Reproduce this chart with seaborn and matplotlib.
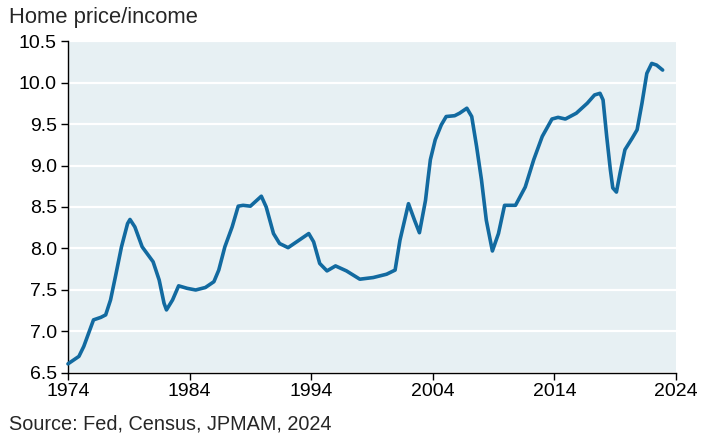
import numpy as np
import pandas as pd
import matplotlib
matplotlib.use('Agg')
import matplotlib.pyplot as plt
import seaborn as sns

# Home price to income ratio
years = [1974.0, 1974.9, 1975.3, 1975.7, 1976.1, 1976.7, 1977.1, 1977.5, 1977.9,
         1978.4, 1978.9, 1979.1, 1979.5, 1980.1, 1980.6, 1981.0, 1981.5, 1981.9,
         1982.1, 1982.6, 1983.1, 1983.8, 1984.5, 1985.3, 1986.0, 1986.4, 1986.9,
         1987.5, 1988.0, 1988.4, 1989.0, 1989.9, 1990.3, 1990.9, 1991.4, 1992.1,
         1992.8, 1993.8, 1994.2, 1994.7, 1995.3, 1996.0, 1996.9, 1998.0, 1999.1,
         2000.2, 2000.9, 2001.3, 2002.0, 2002.5, 2002.9, 2003.4, 2003.6, 2003.8,
         2004.2, 2004.7, 2005.1, 2005.8, 2006.2, 2006.8, 2007.2, 2007.6, 2008.0,
         2008.4, 2008.9, 2009.4, 2009.9, 2010.8, 2011.6, 2012.3, 2013.0, 2013.8,
         2014.3, 2014.9, 2015.8, 2016.7, 2017.3, 2017.75, 2018.0, 2018.3, 2018.6,
         2018.8, 2019.1, 2019.4, 2019.8, 2020.4, 2020.8, 2021.2, 2021.6, 2022.0,
         2022.4, 2022.9]
ratio = [6.61, 6.70, 6.82, 6.98, 7.14, 7.17, 7.20, 7.38, 7.66,
         8.02, 8.30, 8.35, 8.26, 8.02, 7.92, 7.84, 7.62, 7.34,
         7.26, 7.38, 7.55, 7.52, 7.50, 7.53, 7.60, 7.74, 8.02,
         8.26, 8.51, 8.52, 8.51, 8.63, 8.50, 8.18, 8.06, 8.01,
         8.08, 8.18, 8.08, 7.82, 7.73, 7.79, 7.73, 7.63, 7.65,
         7.69, 7.74, 8.10, 8.54, 8.34, 8.19, 8.58, 8.83, 9.07,
         9.31, 9.49, 9.59, 9.60, 9.63, 9.69, 9.59, 9.23, 8.83,
         8.34, 7.97, 8.18, 8.52, 8.52, 8.74, 9.07, 9.35, 9.56,
         9.58, 9.56, 9.63, 9.75, 9.85, 9.87, 9.79, 9.35, 8.95,
         8.73, 8.68, 8.91, 9.19, 9.33, 9.43, 9.75, 10.11, 10.23,
         10.21, 10.15]

x_ticks = [1974, 1984, 1994, 2004, 2014, 2024]
y_ticks = [6.5, 7.0, 7.5, 8.0, 8.5, 9.0, 9.5, 10.0, 10.5]

df = pd.DataFrame({'year': years, 'ratio': ratio})

sns.set_style('white')
plt.rcParams['font.family'] = ['Liberation Sans', 'DejaVu Sans']

fig = plt.figure(figsize=(7.11, 4.34), dpi=100)
ax = fig.add_axes([0.0956, 0.1406, 0.8552, 0.7649])
ax.set_facecolor('#e7f0f3')

sns.lineplot(data=df, x='year', y='ratio', ax=ax, color='#126aa0', linewidth=2.6,
             solid_joinstyle='round', solid_capstyle='round', clip_on=False, zorder=3)

ax.set_xlim(1974, 2024)
ax.set_ylim(6.5, 10.5)
ax.set_xticks(x_ticks)
ax.set_yticks(y_ticks)
ax.set_yticklabels([f'{v:.1f}' for v in y_ticks])
ax.grid(axis='y', color='white', linewidth=1.6)
ax.grid(axis='x', visible=False)
ax.set_axisbelow(True)

for s in ['top', 'right']:
    ax.spines[s].set_visible(False)
for s in ['left', 'bottom']:
    ax.spines[s].set_color('black')
    ax.spines[s].set_linewidth(1.0)
ax.tick_params(axis='both', which='both', direction='out', length=5, width=1,
               color='black', labelsize=14, labelcolor='black', left=True, bottom=True)
ax.tick_params(axis='x', pad=2)
ax.tick_params(axis='y', pad=3)
ax.set_xlabel('')
ax.set_ylabel('')

fig.text(0.012, 0.960, 'Home price/income', fontsize=15.8, va='center', ha='left')
fig.text(0.012, 0.024, 'Source: Fed, Census, JPMAM, 2024', fontsize=14.3, va='center', ha='left')

fig.savefig('out.png', dpi=100)
